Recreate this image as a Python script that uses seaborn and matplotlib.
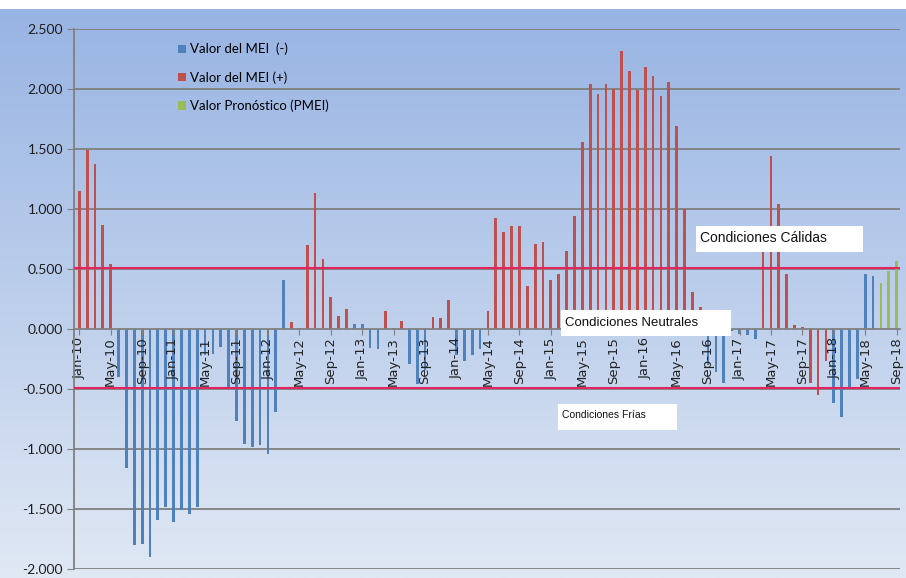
import numpy as np
import pandas as pd
import matplotlib
matplotlib.use("Agg")
import matplotlib.pyplot as plt
import seaborn as sns
from matplotlib.patches import Rectangle
from matplotlib.ticker import FuncFormatter

# ---------------- data ----------------
month_names = ["Jan", "Feb", "Mar", "Apr", "May", "Jun",
               "Jul", "Aug", "Sep", "Oct", "Nov", "Dec"]
months = [f"{m}-{y:02d}" for y in range(10, 19) for m in month_names][:105]

N = None
# Valor del MEI (-)  (blue series)
mei_neg = [
    N, N, N, N, N, -0.40, -1.16, -1.80, -1.79, -1.90, -1.59, -1.48,      # 2010
    -1.61, -1.51, -1.54, -1.48, -0.22, -0.21, -0.15, -0.49, -0.77, -0.96, -0.98, -0.97,  # 2011
    -1.04, -0.69, 0.41, N, N, N, N, N, N, N, N, 0.04,                 # 2012
    0.045, -0.16, -0.165, N, N, N, -0.29, -0.46, -0.34, N, N, N,      # 2013
    -0.22, -0.265, -0.22, -0.17, N, N, N, N, N, N, N, N,              # 2014
    N, N, N, N, N, N, N, N, N, N, N, N,                               # 2015
    N, N, N, N, N, N, N, N, -0.30, -0.36, -0.45, -0.02,               # 2016
    -0.045, -0.05, -0.08, N, N, N, N, N, N, N, N, N,                  # 2017
    -0.62, -0.73, -0.50, -0.42, 0.46, 0.44, N, N, N,                  # 2018
]
# Valor del MEI (+)  (red series)
mei_pos = [
    1.15, 1.49, 1.375, 0.87, 0.54, N, N, N, N, N, N, N,               # 2010
    N, N, N, N, N, N, N, N, N, N, N, N,                               # 2011
    N, N, N, 0.055, 0.005, 0.70, 1.13, 0.58, 0.27, 0.11, 0.17, N,      # 2012
    N, N, N, 0.15, 0.01, 0.066, N, N, N, 0.10, 0.095, 0.245,          # 2013
    N, N, N, N, 0.15, 0.925, 0.81, 0.855, 0.86, 0.36, 0.71, 0.725,    # 2014
    0.41, 0.46, 0.65, 0.945, 1.555, 2.045, 1.955, 2.04, 2.0, 2.32, 2.15, 1.99,  # 2015
    2.185, 2.105, 1.94, 2.055, 1.69, 1.0, 0.31, 0.18, N, N, N, N,    # 2016
    N, N, N, 0.64, 1.445, 1.04, 0.455, 0.03, 0.02, -0.45, -0.55, -0.27,  # 2017
    N, N, N, N, N, N, N, N, N,                                        # 2018
]
# Valor Pronostico (PMEI)  (green series)
pmei = [N] * 102 + [0.38, 0.48, 0.57]

series_names = ["Valor del MEI  (-)", "Valor del MEI (+)", "Valor Pronóstico (PMEI)"]
series_colors = ["#4F81BD", "#C0504D", "#9BBB59"]

warm_threshold = 0.51
cold_threshold = -0.49
y_ticks = [-2.0, -1.5, -1.0, -0.5, 0.0, 0.5, 1.0, 1.5, 2.0, 2.5]

rows = []
for name, vals in zip(series_names, [mei_neg, mei_pos, pmei]):
    for m, v in zip(months, vals):
        if v is not None:
            rows.append({"month": m, "value": v, "series": name})
df = pd.DataFrame(rows)

# ---------------- figure ----------------
W, H = 906, 578
fig = plt.figure(figsize=(W / 100, H / 100), dpi=100)
fig.patch.set_facecolor("white")

# gradient background
bg = fig.add_axes([0, 0, 1, 1 - 9 / H], zorder=-10)
grad = np.linspace(0, 1, 256).reshape(-1, 1)
top = np.array([0x98, 0xB4, 0xE3]) / 255
bot = np.array([0xE0, 0xE8, 0xF4]) / 255
img = top[None, None, :] * (1 - grad[:, :, None]) + bot[None, None, :] * grad[:, :, None]
bg.imshow(img, aspect="auto", extent=[0, 1, 0, 1], origin="upper")
bg.set_axis_off()

x0, x1 = 74, 900
y_top, y_bot = 29, 569
ax = fig.add_axes([x0 / W, 1 - y_bot / H, (x1 - x0) / W, (y_bot - y_top) / H])
ax.patch.set_alpha(0)

sns.barplot(data=df, x="month", y="value", hue="series", order=months,
            hue_order=series_names, palette=series_colors, dodge=False,
            width=0.35, saturation=1, linewidth=0, ax=ax)

ax.set_xlim(-0.67, 104.42)
ax.set_ylim(-2.0, 2.5)
ax.set_yticks(y_ticks)
ax.yaxis.set_major_formatter(FuncFormatter(lambda v, p: f"{v:.3f}"))

for yv in y_ticks:
    if yv != 0:
        ax.axhline(yv, color="#7F7F7F", lw=1.3, zorder=0.5)

ax.axhline(warm_threshold, color="#E3245E", lw=1.5, zorder=3)
ax.axhline(cold_threshold, color="#E3245E", lw=1.5, zorder=3)

ax.set_xticks(range(0, 105, 4))
ax.set_xticklabels(months[::4])
ax.tick_params(axis="x", length=4, color="#808080", pad=2, labelrotation=90,
               labelsize=9.5, labelcolor="#222222")
for lab in ax.get_xticklabels():
    lab.set_family("Lato")
    lab.set_rotation(90)
    lab.set_va("top")
    lab.set_ha("center")
ax.tick_params(axis="y", length=5, color="#808080", labelsize=10, pad=3, labelcolor="#1E1E1E")
for lab in ax.get_yticklabels():
    lab.set_family("Lato")

for s in ["top", "right"]:
    ax.spines[s].set_visible(False)
ax.spines["bottom"].set_position(("data", 0))
ax.spines["bottom"].set_color("#808080")
ax.spines["bottom"].set_linewidth(1.3)
ax.spines["left"].set_color("#808080")
ax.spines["left"].set_linewidth(1.3)
ax.set_xlabel("")
ax.set_ylabel("")

# legend
handles, labels = ax.get_legend_handles_labels()
leg = ax.legend(handles, labels, loc="upper left",
                bbox_to_anchor=(166 / W, 1 - 31 / H), bbox_transform=fig.transFigure,
                frameon=False, handlelength=0.6, handleheight=0.6,
                handletextpad=0.3, labelspacing=1.2, prop={"family": "Lato", "size": 9.5})

# condition boxes (figure pixel coords)
def box(xl, yt, xr, yb, text, tx, ty, size):
    fig.patches.append(Rectangle((xl / W, 1 - yb / H), (xr - xl) / W, (yb - yt) / H,
                                 transform=fig.transFigure, facecolor="white",
                                 edgecolor="none", zorder=5))
    fig.text(tx / W, 1 - ty / H, text, fontsize=size, family="Liberation Sans",
             va="center", ha="left", color="#111111", zorder=6)

box(696, 226, 863, 252, "Condiciones Cálidas", 700, 238, 10)
box(561, 310, 731, 336, "Condiciones Neutrales", 565, 323, 9.5)
box(558, 404, 677, 430, "Condiciones Frías", 562, 415, 7.5)

fig.savefig("out.png", dpi=100, facecolor=fig.get_facecolor())
